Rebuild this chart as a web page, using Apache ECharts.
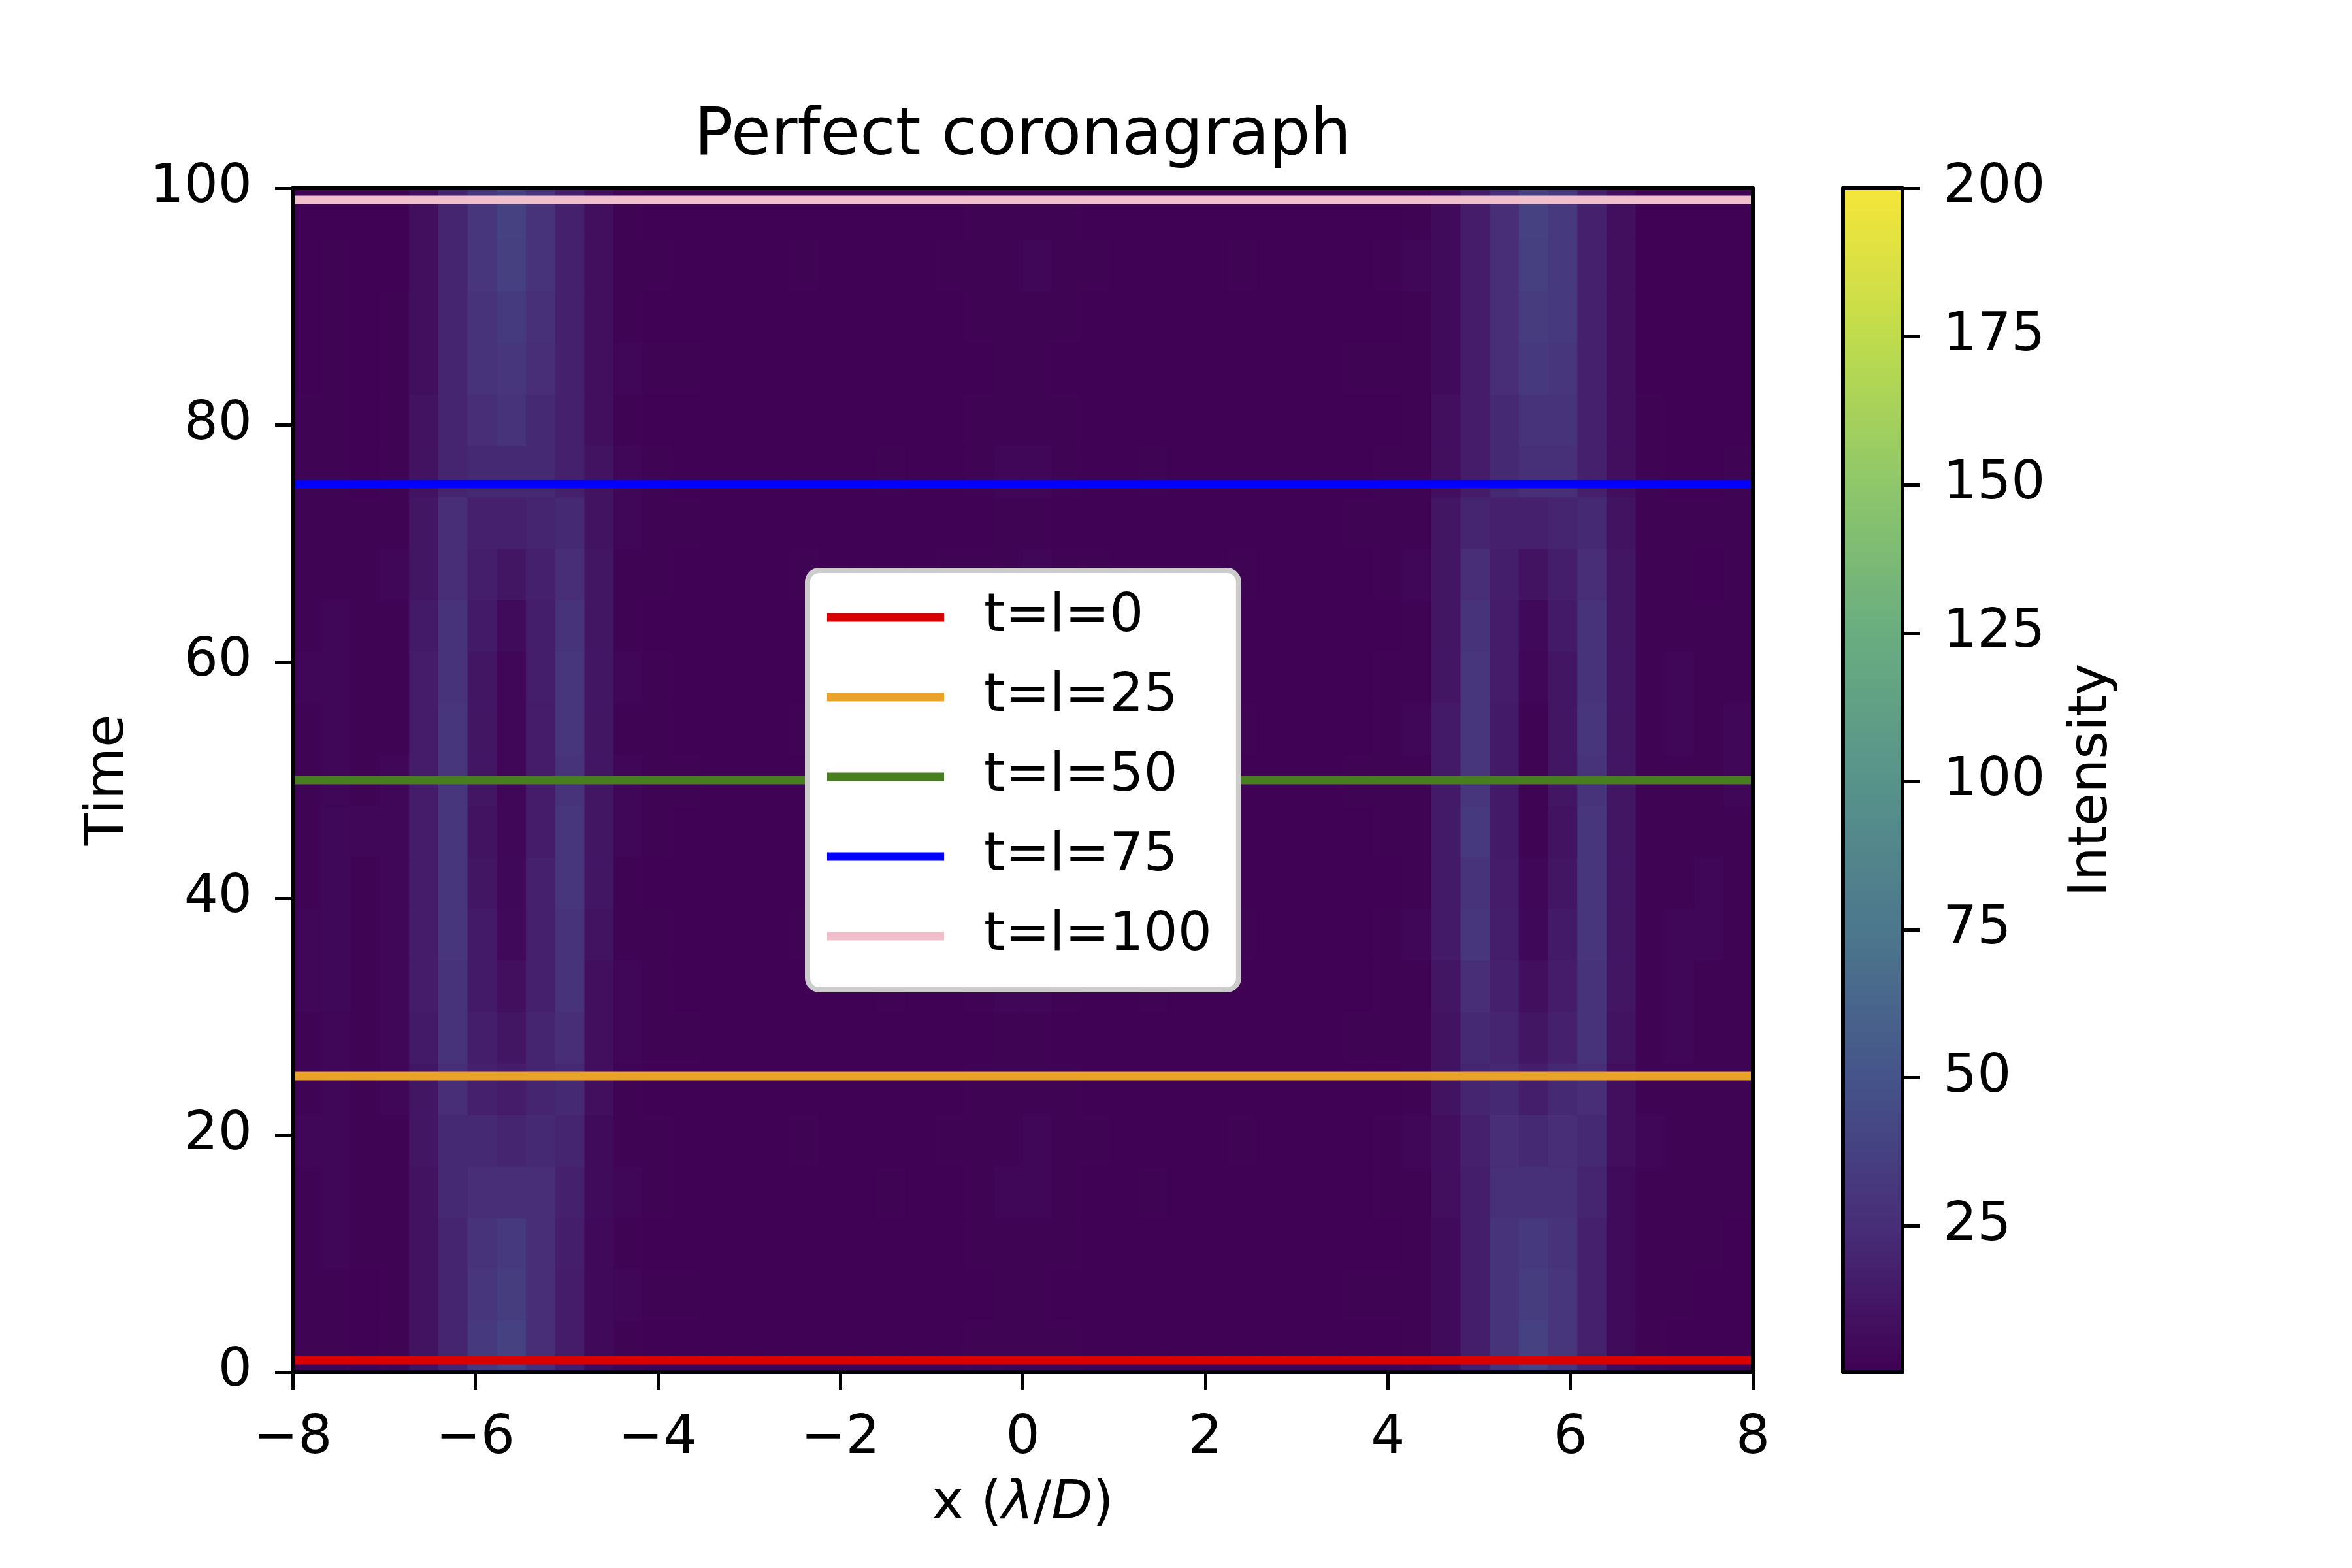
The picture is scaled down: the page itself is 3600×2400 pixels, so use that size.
<!DOCTYPE html>
<html>
<head>
<meta charset="utf-8">
<script src="https://cdn.jsdelivr.net/npm/echarts@6/dist/echarts.min.js"></script>
<style>
html, body { margin: 0; padding: 0; background: #ffffff; }
#chart { width: 3600px; height: 2400px; }
</style>
</head>
<body>
<div id="chart"></div>
<script>
// ---- data ----
const xCenters = [-7.84,-7.52,-7.2,-6.88,-6.56,-6.24,-5.92,-5.6,-5.28,-4.96,-4.64,-4.32,-4.0,-3.68,-3.36,-3.04,-2.72,-2.4,-2.08,-1.76,-1.44,-1.12,-0.8,-0.48,-0.16,0.16,0.48,0.8,1.12,1.44,1.76,2.08,2.4,2.72,3.04,3.36,3.68,4.0,4.32,4.64,4.96,5.28,5.6,5.92,6.24,6.56,6.88,7.2,7.52,7.84];
const timeCenters = [2.17,6.52,10.87,15.22,19.57,23.91,28.26,32.61,36.96,41.30,45.65,50.00,54.35,58.70,63.04,67.39,71.74,76.09,80.43,84.78,89.13,93.48,97.83];
// intensity[row][col], row 0 = bottom (t≈2), col 0 = left (x≈-7.84)
const intensity = [
[2,2,1,2,10,20,32,38,25,15,5,2,1,1,1,1,1,1,1,1,1,1,1,2,2,2,2,1,1,1,1,1,1,1,1,1,1,1,2,6,16,28,38,30,18,6,2,1,1,1],
[2,2,1,2,10,20,30,35,25,15,5,3,2,2,1,1,1,1,1,1,1,1,1,1,2,2,1,1,1,1,1,1,1,1,1,1,2,2,2,6,16,28,35,30,18,6,2,2,1,1],
[2,3,2,2,10,20,28,32,25,16,5,2,1,1,1,1,1,1,1,1,1,1,1,2,2,2,2,1,1,1,1,1,1,1,1,1,1,1,2,6,16,28,32,28,18,6,2,2,2,1],
[2,3,2,2,10,22,25,25,25,18,6,3,2,1,1,1,1,1,1,1,2,1,1,2,3,3,2,1,1,2,1,1,1,1,1,1,1,2,2,8,16,26,26,26,20,6,2,2,2,2],
[3,3,2,2,12,22,22,20,22,20,6,2,2,1,1,1,1,2,1,1,1,1,2,2,2,3,2,2,1,1,1,1,2,1,1,1,1,2,3,8,18,25,22,25,22,8,3,2,2,2],
[2,3,2,3,12,25,18,15,20,22,8,2,1,1,1,1,1,1,1,1,1,1,1,2,2,2,2,1,1,1,1,1,1,1,1,1,1,1,2,10,20,22,16,22,25,8,2,2,2,2],
[2,3,2,3,14,28,16,12,20,25,8,3,2,2,1,1,1,1,1,1,1,1,1,1,2,2,1,1,1,1,1,1,1,1,1,1,2,2,2,10,22,20,12,18,28,10,2,3,2,2],
[3,4,2,3,15,28,14,8,18,28,8,3,2,1,1,1,1,1,1,1,2,1,1,2,3,3,2,1,1,2,1,1,1,1,1,1,1,2,2,12,25,18,8,15,28,12,2,3,2,2],
[3,4,2,3,15,30,14,5,18,28,10,2,2,1,1,1,1,2,1,1,1,1,2,2,2,3,2,2,1,1,1,1,2,1,1,1,1,2,3,14,30,16,4,14,30,12,2,3,3,2],
[2,4,2,3,15,30,12,4,18,30,12,2,1,1,1,1,1,1,1,1,1,1,1,2,2,2,2,1,1,1,1,1,1,1,1,1,1,1,2,14,28,15,3,12,30,12,2,2,3,2],
[2,4,3,3,15,30,10,3,15,30,12,3,2,1,1,1,1,1,1,1,2,1,1,2,3,3,2,1,1,2,1,1,1,1,1,1,1,2,2,14,32,14,2,10,30,12,2,2,2,2],
[2,3,2,3,15,30,12,3,15,28,12,3,2,2,1,1,1,1,1,1,1,1,1,1,2,2,1,1,1,1,1,1,1,1,1,1,2,2,2,14,30,14,2,12,28,12,2,2,2,3],
[2,3,2,2,15,30,12,3,15,30,12,2,2,1,1,1,1,2,1,1,1,1,2,2,2,3,2,2,1,1,1,1,2,1,1,1,1,2,3,14,30,14,2,12,30,12,2,3,2,3],
[3,3,2,2,15,28,12,3,16,30,12,3,2,1,1,1,1,1,1,1,2,1,1,2,3,3,2,1,1,2,1,1,1,1,1,1,1,2,2,12,30,15,3,12,28,12,2,3,2,2],
[2,3,2,2,14,28,14,6,16,28,12,2,1,1,1,1,1,1,1,1,1,1,1,2,2,2,2,1,1,1,1,1,1,1,1,1,1,1,2,12,28,15,5,14,28,12,2,2,2,2],
[2,2,2,3,12,25,16,12,18,25,12,2,2,1,1,1,1,2,1,1,1,1,2,2,2,3,2,2,1,1,1,1,2,1,1,1,1,2,3,12,25,16,10,16,25,12,2,2,1,2],
[2,2,2,2,12,25,18,18,20,22,10,3,2,2,1,1,1,1,1,1,1,1,1,1,2,2,1,1,1,1,1,1,1,1,1,1,2,2,2,12,20,18,18,20,22,10,2,2,2,2],
[2,2,1,2,10,20,22,22,22,18,10,3,2,1,1,1,1,1,1,1,2,1,1,2,3,3,2,1,1,2,1,1,1,1,1,1,1,2,2,8,15,22,26,26,18,8,2,1,1,2],
[2,2,1,2,10,20,25,28,22,18,8,2,1,1,1,1,1,1,1,1,1,1,1,2,2,2,2,1,1,1,1,1,1,1,1,1,1,1,2,8,15,22,28,28,18,8,2,1,1,1],
[1,2,1,2,8,20,28,30,25,18,8,3,2,2,1,1,1,1,1,1,1,1,1,1,2,2,1,1,1,1,1,1,1,1,1,1,2,2,2,6,15,25,32,30,18,8,1,1,1,1],
[1,2,1,2,8,20,28,33,26,18,8,2,1,1,1,1,1,1,1,1,1,1,1,2,2,2,2,1,1,1,1,1,1,1,1,1,1,1,2,6,15,25,34,32,18,8,1,1,1,1],
[1,2,1,1,8,20,30,36,28,18,8,2,2,1,1,1,1,2,1,1,1,1,2,2,2,3,2,2,1,1,1,1,2,1,1,1,1,2,3,6,15,25,36,32,18,8,1,1,1,1],
[1,1,1,1,8,20,30,38,28,18,8,2,1,1,1,1,1,1,1,1,1,1,1,2,2,2,2,1,1,1,1,1,1,1,1,1,1,1,2,6,15,25,38,32,18,8,1,1,1,1]
];
const lineTimes = [1, 25, 50, 75, 99];
const lineLabels = ['t=l=0', 't=l=25', 't=l=50', 't=l=75', 't=l=100'];
const lineColors = ['#d90000', '#eaa32a', '#477e20', '#0000ff', '#efc0cb'];
const colorbarTicks = [25, 50, 75, 100, 125, 150, 175, 200];
const xRange = [-8, 8];
const timeRange = [0, 100];
const colorRange = [0.4, 200];
// colour stops as seen on the reference colorbar (0, 25, 50, ... 200)
const colorStops = ['#3f0153','#472f78','#45548a','#4d788c','#58938a','#6aad80','#8fc76a','#c0dc4c','#f5e63a'];

// ---- build ----
const FONT = 'DejaVu Sans';
const cells = [];
intensity.forEach((row, r) => {
  if (row.length !== xCenters.length) console.error('row length', r, row.length);
  row.forEach((v, c) => cells.push([xCenters[c], timeCenters[r], v]));
});
const dx = xCenters[1] - xCenters[0];
const dt = timeCenters[1] - timeCenters[0];
const minus = v => (v < 0 ? '\u2212' + Math.abs(v) : String(v));

const chart = echarts.init(document.getElementById('chart'), null, { renderer: 'canvas', devicePixelRatio: 1 });

const plot = { left: 448, top: 288, width: 2235, height: 1812 };
const cbar = { left: 2821, top: 288, width: 91, height: 1812 };
const frameLine = { show: true, onZero: false, lineStyle: { color: '#000', width: 6 } };
const tickStyle = { show: true, inside: false, length: 27, lineStyle: { color: '#000', width: 5 } };
const labelStyle = { color: '#000', fontSize: 82, fontFamily: FONT };
const yLabelStyle = Object.assign({ padding: [16, 0, 0, 0] }, labelStyle);

const lineSeries = lineTimes.map((t, i) => ({
  type: 'line',
  name: lineLabels[i],
  xAxisIndex: 0, yAxisIndex: 0,
  data: [[xRange[0], t], [xRange[1], t]],
  showSymbol: false, symbol: 'none',
  color: lineColors[i],
  lineStyle: { color: lineColors[i], width: 13 },
  itemStyle: { color: lineColors[i] },
  z: 5, silent: true, animation: false
}));

chart.setOption({
  animation: false,
  backgroundColor: '#ffffff',
  textStyle: { fontFamily: FONT },
  graphic: [{
    type: 'text', x: plot.left + plot.width / 2, y: 210,
    style: { text: 'Perfect coronagraph', fill: '#000', font: '99px "DejaVu Sans"', textAlign: 'center', textVerticalAlign: 'middle' }
  }],
  grid: [
    Object.assign({ containLabel: false }, plot),
    Object.assign({ containLabel: false }, cbar)
  ],
  xAxis: [
    { gridIndex: 0, type: 'value', min: xRange[0], max: xRange[1], interval: 2, position: 'bottom', z: 10,
      axisLine: frameLine, axisTick: tickStyle, splitLine: { show: false },
      axisLabel: Object.assign({ margin: 62, formatter: minus }, labelStyle),
      name: 'x ({i|λ}/{i|D})', nameLocation: 'middle', nameGap: 162,
      nameTextStyle: { color: '#000', fontSize: 82, fontFamily: FONT, rich: { i: { fontStyle: 'italic', fontSize: 82, fontFamily: FONT, color: '#000' } } } },
    { gridIndex: 0, type: 'value', min: xRange[0], max: xRange[1], position: 'top', z: 10,
      axisLine: frameLine, axisTick: { show: false }, axisLabel: { show: false }, splitLine: { show: false } },
    { gridIndex: 1, type: 'value', min: 0, max: 1, position: 'bottom', z: 10,
      axisLine: frameLine, axisTick: { show: false }, axisLabel: { show: false }, splitLine: { show: false } },
    { gridIndex: 1, type: 'value', min: 0, max: 1, position: 'top', z: 10,
      axisLine: frameLine, axisTick: { show: false }, axisLabel: { show: false }, splitLine: { show: false } }
  ],
  yAxis: [
    { gridIndex: 0, type: 'value', min: timeRange[0], max: timeRange[1], interval: 20, position: 'left', z: 10,
      axisLine: frameLine, axisTick: tickStyle, splitLine: { show: false },
      axisLabel: Object.assign({ margin: 62 }, yLabelStyle),
      name: 'Time', nameLocation: 'middle', nameRotate: 90, nameGap: 240,
      nameTextStyle: { color: '#000', fontSize: 82, fontFamily: FONT } },
    { gridIndex: 0, type: 'value', min: timeRange[0], max: timeRange[1], position: 'right', z: 10,
      axisLine: frameLine, axisTick: { show: false }, axisLabel: { show: false }, splitLine: { show: false } },
    { gridIndex: 1, type: 'value', min: colorRange[0], max: colorRange[1], position: 'right', z: 10,
      axisLine: frameLine,
      axisTick: Object.assign({ customValues: colorbarTicks }, tickStyle),
      axisLabel: Object.assign({ margin: 62, customValues: colorbarTicks }, yLabelStyle),
      splitLine: { show: false },
      name: 'Intensity', nameLocation: 'middle', nameRotate: 90, nameGap: 250,
      nameTextStyle: { color: '#000', fontSize: 82, fontFamily: FONT } },
    { gridIndex: 1, type: 'value', min: colorRange[0], max: colorRange[1], position: 'left', z: 10,
      axisLine: frameLine, axisTick: { show: false }, axisLabel: { show: false }, splitLine: { show: false } }
  ],
  visualMap: {
    type: 'continuous', min: colorRange[0], max: colorRange[1], dimension: 2, seriesIndex: 0,
    inRange: { color: colorStops },
    calculable: false, hoverLink: false, realtime: false,
    orient: 'vertical', left: cbar.left, top: cbar.top,
    itemWidth: cbar.width, itemHeight: cbar.height, padding: 0,
    text: null, showLabel: false, z: 4
  },
  legend: {
    orient: 'vertical', left: 1236, top: 873,
    data: lineLabels, icon: 'rect', itemWidth: 179, itemHeight: 13, itemGap: 32,
    padding: [27, 41, 37, 30],
    backgroundColor: '#ffffff', borderColor: '#cccccc', borderWidth: 8, borderRadius: 18,
    textStyle: { color: '#000', fontSize: 82, fontFamily: FONT, lineHeight: 90, padding: [0, 0, 0, 56] },
    selectedMode: false, z: 20
  },
  series: [
    {
      type: 'custom', name: 'intensity', xAxisIndex: 0, yAxisIndex: 0,
      data: cells, encode: { x: 0, y: 1 }, dimensions: ['x', 't', 'v'],
      clip: true, z: 1, silent: true, animation: false,
      renderItem: function (params, api) {
        const p = api.coord([api.value(0) - dx / 2, api.value(1) + dt / 2]);
        const s = api.size([dx, dt]);
        return { type: 'rect', shape: { x: p[0] - 0.6, y: p[1] - 0.6, width: s[0] + 1.2, height: s[1] + 1.2 },
                 style: { fill: api.visual('color') } };
      }
    }
  ].concat(lineSeries)
});
</script>
</body>
</html>
